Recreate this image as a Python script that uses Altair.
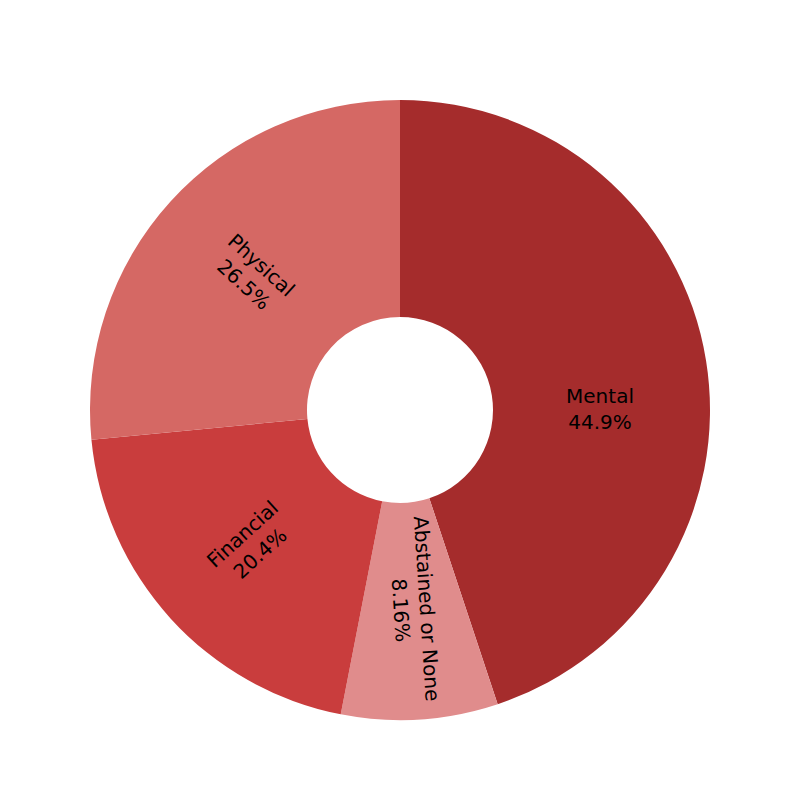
import altair as alt
import pandas as pd

categories = ["Mental", "Abstained or None", "Financial", "Physical"]
counts = [22, 4, 10, 13]
colors = ["#a52c2c", "#e08c8c", "#c93d3d", "#d56864"]

df = pd.DataFrame({"category": categories, "count": counts, "idx": list(range(len(categories)))})

base = alt.Chart(df).transform_joinaggregate(
    total="sum(count)"
).transform_window(
    cum="sum(count)", sort=[alt.SortField("idx")], frame=[None, 0]
).transform_calculate(
    frac="datum.count / datum.total",
    start="(datum.cum - datum.count) / datum.total * 360",
    end="datum.cum / datum.total * 360",
    mid="(datum.cum - datum.count / 2) / datum.total * 360",
).transform_calculate(
    labelTheta="datum.frac > 0.4 ? round(datum.mid / 90) * 90 : datum.mid",
    rawRot="datum.mid - 90 > 90 ? datum.mid - 270 : datum.mid - 90",
).transform_calculate(
    rot="datum.frac > 0.4 ? 0 : (datum.rawRot + 360) % 360",
    label="datum.category + '\\n' + format(datum.frac, '.3p')",
)

theta_scale = alt.Scale(domain=[0, 360], range=[0, 6.283185307179586])

arcs = base.mark_arc(radius=310, innerRadius=93, stroke=None).encode(
    theta=alt.Theta("start:Q", scale=theta_scale, stack=None),
    theta2="end:Q",
    color=alt.Color("category:N", scale=alt.Scale(domain=categories, range=colors), legend=None),
)

texts = base.mark_text(
    radius=200, font="DejaVu Sans", fontSize=20, lineBreak="\n", lineHeight=26,
    align="center", baseline="middle", color="black", dy=-13,
).encode(
    theta=alt.Theta("labelTheta:Q", scale=theta_scale, stack=None),
    angle=alt.Angle("rot:Q", scale=None),
    text="label:N",
)

chart = alt.layer(arcs, texts).properties(
    width=800, height=780,
    autosize=alt.AutoSizeParams(type="none"),
    padding={"top": 20, "left": 0, "right": 0, "bottom": 0},
).configure_view(stroke=None)

chart.save("out.html", embed_options={"renderer": "svg", "actions": False})
